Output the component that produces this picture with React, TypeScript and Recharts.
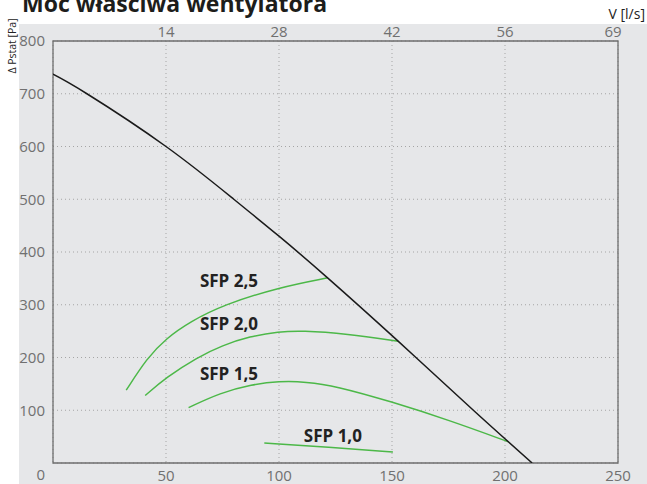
import React from 'react';
import {
  LineChart,
  Line,
  XAxis,
  YAxis,
  CartesianGrid,
  ReferenceArea,
  ReferenceDot,
} from 'recharts';

// ticks: bottom axis in m3/h, top axis the same lines in l/s
const flowTicks = [50, 100, 150, 200, 250];
const flowTicksLs = ['14', '28', '42', '56', '69'];
const pressureTicks = [0, 100, 200, 300, 400, 500, 600, 700, 800];

// fan curve
const fanFlow = [0, 15, 50, 80, 100, 121.5, 152.7, 186, 212];
const fanPressure = [737, 700, 600, 500, 430, 351, 231, 100, 0];

// SFP curves
const sfp25Flow = [32.4, 41.6, 50, 60.7, 75.5, 100, 121.5];
const sfp25Pressure = [138, 199, 236, 268, 300, 333, 351];

const sfp20Flow = [40.8, 50, 63.7, 75, 87, 100, 110, 130, 152.7];
const sfp20Pressure = [128, 162, 200, 223, 240, 249, 251, 245, 231];

const sfp15Flow = [60, 74, 88, 100, 112, 125, 150, 176, 201.6];
const sfp15Pressure = [105, 133, 149, 155, 154, 146, 116, 80, 40];

const sfp10Flow = [93.5, 122, 150.4];
const sfp10Pressure = [38, 30, 21];

const sfpNames = ['SFP 2,5', 'SFP 2,0', 'SFP 1,5', 'SFP 1,0'];
const sfpLabelFlow = [65, 65, 65, 111];
const sfpLabelPressure = [334, 252, 157, 40];

const zip = (xs: number[], ys: number[]) => xs.map((x, i) => ({ x, y: ys[i] }));

const fanData = zip(fanFlow, fanPressure);
const sfpSeries = [
  zip(sfp25Flow, sfp25Pressure),
  zip(sfp20Flow, sfp20Pressure),
  zip(sfp15Flow, sfp15Pressure),
  zip(sfp10Flow, sfp10Pressure),
];

const FONT = '"Open Sans", sans-serif';
const TICK_GRAY = '#707070';

function PressureTick(props: any) {
  const { x, y, payload } = props;
  const isZero = payload.value === 0;
  return (
    <text
      x={x}
      y={y}
      dy={isZero ? 17 : 5.3}
      textAnchor="end"
      fill={TICK_GRAY}
      fontSize={15}
      fontFamily={FONT}
    >
      {payload.value}
    </text>
  );
}

function TopTick(props: any) {
  const { x, y, payload } = props;
  const last = payload.value === flowTicks[flowTicks.length - 1];
  return (
    <text
      x={last ? x - 5 : x}
      y={y}
      textAnchor="middle"
      fill={TICK_GRAY}
      fontSize={15}
      fontFamily={FONT}
    >
      {flowTicksLs[flowTicks.indexOf(payload.value)]}
    </text>
  );
}

function SfpLabel(props: any) {
  const { viewBox, text } = props;
  if (!viewBox) return null;
  return (
    <text
      x={viewBox.x + (viewBox.width || 0) / 2}
      y={viewBox.y + (viewBox.height || 0) / 2}
      fontSize={17}
      fontWeight={700}
      fontFamily={FONT}
      fill="#222"
    >
      {text}
    </text>
  );
}

export default function App() {
  return (
    <div
      style={{
        position: 'absolute',
        left: 0,
        top: 0,
        width: 647,
        height: 484,
        overflow: 'hidden',
        background: '#fff',
      }}
    >
      <div
        style={{
          position: 'absolute',
          left: 19,
          top: 24,
          width: 628,
          height: 460,
          background: '#e6e7e9',
        }}
      />
      <div style={{ position: 'absolute', left: 0, top: 0 }}>
        <LineChart
          width={647}
          height={484}
          margin={{ top: 11, right: 29, bottom: 0, left: 0 }}
        >
          <CartesianGrid stroke="#a5a5a5" strokeDasharray="1 3" />
          <XAxis
            type="number"
            dataKey="x"
            domain={[0, 250]}
            allowDataOverflow
            ticks={flowTicks}
            height={21}
            tickSize={0}
            tickMargin={7}
            axisLine={false}
            tick={{ fill: TICK_GRAY, fontSize: 15, fontFamily: FONT }}
          />
          <XAxis
            xAxisId="top"
            orientation="top"
            type="number"
            dataKey="x"
            domain={[0, 250]}
            allowDataOverflow
            ticks={flowTicks}
            height={30}
            tickSize={0}
            tickMargin={4}
            axisLine={false}
            tick={<TopTick />}
          />
          <YAxis
            type="number"
            domain={[0, 800]}
            allowDataOverflow
            ticks={pressureTicks}
            width={53}
            tickSize={0}
            tickMargin={8}
            axisLine={false}
            tick={<PressureTick />}
          />
          <ReferenceArea
            x1={0}
            x2={250}
            y1={0}
            y2={800}
            fill="none"
            fillOpacity={0}
            stroke="#6e6e6e"
            strokeWidth={1.3}
            ifOverflow="visible"
          />
          {sfpSeries.map((d, i) => (
            <Line
              key={sfpNames[i]}
              data={d}
              dataKey="y"
              type="basis"
              stroke="#4cb848"
              strokeWidth={1.5}
              dot={false}
              activeDot={false}
              isAnimationActive={false}
            />
          ))}
          <Line
            data={fanData}
            dataKey="y"
            type="natural"
            stroke="#1a1a1a"
            strokeWidth={1.5}
            dot={false}
            activeDot={false}
            isAnimationActive={false}
          />
          {sfpNames.map((name, i) => (
            <ReferenceDot
              key={'lbl-' + name}
              x={sfpLabelFlow[i]}
              y={sfpLabelPressure[i]}
              r={0}
              fill="none"
              stroke="none"
              label={(p: any) => <SfpLabel {...p} text={name} />}
            />
          ))}
        </LineChart>
      </div>
      <svg
        width={647}
        height={484}
        style={{ position: 'absolute', left: 0, top: 0, pointerEvents: 'none' }}
      >
        <text x={22} y={12} fontSize={23} fontWeight={700} fontFamily={FONT} fill="#1d1d1b">
          Moc właściwa wentylatora
        </text>
        <text x={645} y={19} fontSize={14} textAnchor="end" fontFamily={FONT} fill="#222">
          V [l/s]
        </text>
        <text
          transform="translate(16,46) rotate(-90)"
          fontSize={10.5}
          textAnchor="middle"
          fontFamily={FONT}
          fill="#222"
        >
          Δ Pstat [Pa]
        </text>
      </svg>
    </div>
  );
}
